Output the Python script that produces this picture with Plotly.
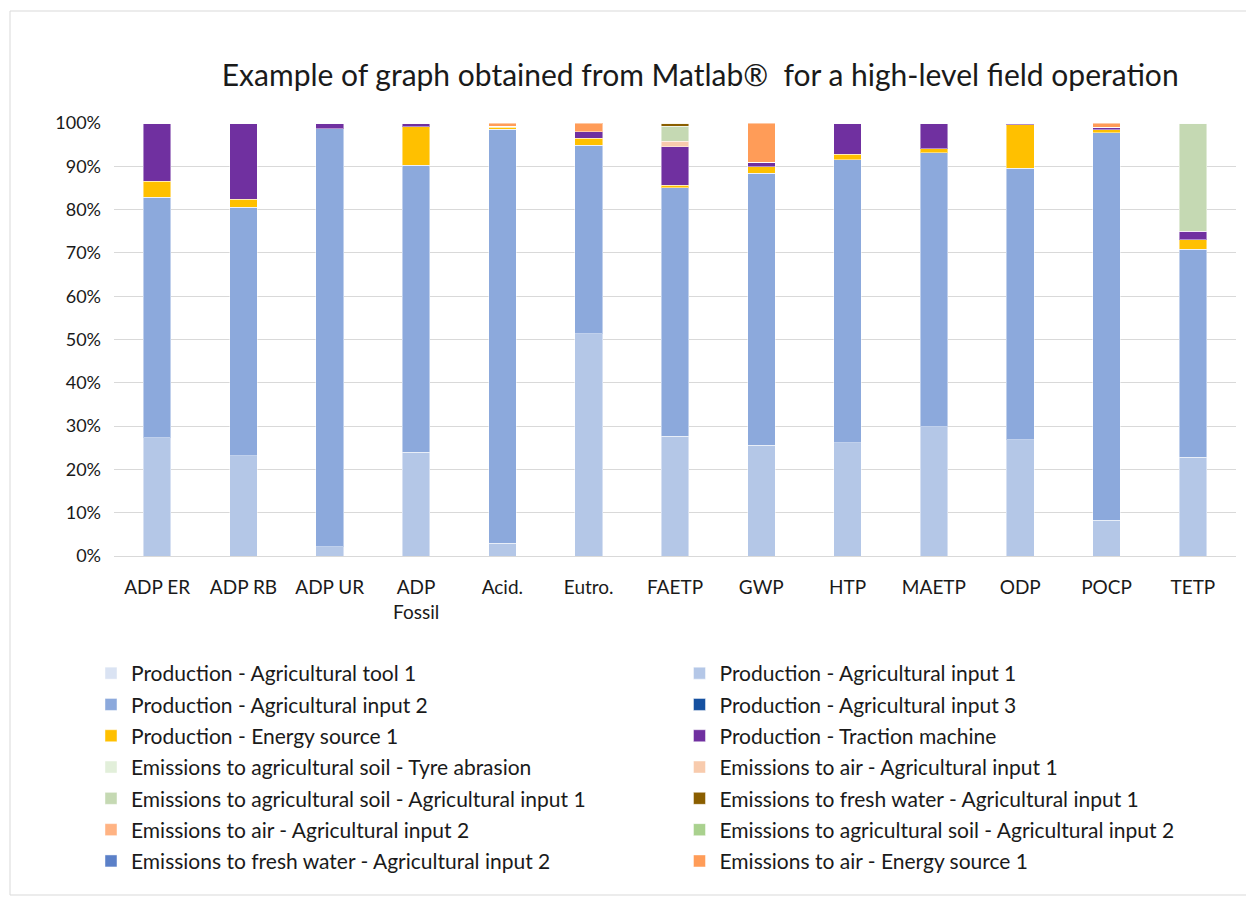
import plotly.graph_objects as go

categories = ["ADP ER", "ADP RB", "ADP UR", "ADP<br>Fossil", "Acid.", "Eutro.", "FAETP",
              "GWP", "HTP", "MAETP", "ODP", "POCP", "TETP"]

series_names = [
    "Production - Agricultural tool 1",
    "Production - Agricultural input 1",
    "Production - Agricultural input 2",
    "Production - Agricultural input 3",
    "Production - Energy source 1",
    "Production - Traction machine",
    "Emissions to agricultural soil - Tyre abrasion",
    "Emissions to air - Agricultural input 1",
    "Emissions to agricultural soil - Agricultural input 1",
    "Emissions to fresh water - Agricultural input 1",
    "Emissions to air - Agricultural input 2",
    "Emissions to agricultural soil - Agricultural input 2",
    "Emissions to fresh water - Agricultural input 2",
    "Emissions to air - Energy source 1",
]

prod_tool1 = [0, 0, 0, 0, 0, 0, 0, 0, 0, 0, 0, 0, 0]
prod_input1 = [27.3, 23.1, 2.1, 24.0, 3.0, 51.3, 27.7, 25.6, 26.1, 29.8, 26.8, 8.3, 22.8]
prod_input2 = [55.6, 57.5, 96.6, 66.3, 95.6, 43.6, 57.4, 62.8, 65.4, 63.3, 62.8, 89.5, 48.1]
prod_input3 = [0, 0, 0, 0, 0, 0, 0, 0, 0, 0, 0, 0, 0]
prod_energy1 = [3.6, 1.8, 0, 8.8, 0.4, 1.6, 0.5, 1.5, 1.3, 0.9, 10.0, 0.7, 2.1]
prod_traction = [13.5, 17.6, 1.3, 0.9, 0.3, 1.5, 8.9, 1.0, 7.0, 6.0, 0.4, 0.5, 2.0]
soil_tyre = [0, 0, 0, 0, 0, 0, 0, 0, 0, 0, 0, 0, 0]
air_input1 = [0, 0, 0, 0, 0, 0, 1.3, 0, 0.2, 0, 0, 0, 0]
soil_input1 = [0, 0, 0, 0, 0, 0, 3.5, 0, 0, 0, 0, 0, 25.0]
water_input1 = [0, 0, 0, 0, 0, 0, 0.7, 0, 0, 0, 0, 0, 0]
air_input2 = [0, 0, 0, 0, 0, 0, 0, 0, 0, 0, 0, 0, 0]
soil_input2 = [0, 0, 0, 0, 0, 0, 0, 0, 0, 0, 0, 0, 0]
water_input2 = [0, 0, 0, 0, 0, 0, 0, 0, 0, 0, 0, 0, 0]
air_energy1 = [0, 0, 0, 0, 0.7, 2.0, 0, 9.1, 0, 0, 0, 1.0, 0]

series_values = [prod_tool1, prod_input1, prod_input2, prod_input3, prod_energy1, prod_traction,
                 soil_tyre, air_input1, soil_input1, water_input1, air_input2, soil_input2,
                 water_input2, air_energy1]

colors = ["#DAE3F3", "#B4C7E7", "#8CA9DC", "#1550A0", "#FFC000", "#7030A0",
          "#E2EFDA", "#F8CBAD", "#C5D9B3", "#8A5E00", "#FFB383", "#A9D18E",
          "#5B80C8", "#FF9C58"]

yticks = [0, 10, 20, 30, 40, 50, 60, 70, 80, 90, 100]
ytick_labels = [f"{v}%" for v in yticks]

FONT = "Lato, 'Open Sans', sans-serif"
TXT = "#1a1a1a"

fig = go.Figure()
for i, (name, vals, col) in enumerate(zip(series_names, series_values, colors)):
    fig.add_trace(go.Bar(
        x=categories, y=vals, name=name,
        legend="legend" if i % 2 == 0 else "legend2",
        legendgroup=f"g{i}",
        marker=dict(color=col, line=dict(color="rgba(255,255,255,0.45)", width=1)),
    ))

legend_common = dict(orientation="v", traceorder="grouped", tracegroupgap=1,
                     yanchor="top", xanchor="left",
                     font=dict(family=FONT, size=21, color=TXT),
                     bgcolor="rgba(0,0,0,0)")

fig.update_layout(
    width=1254, height=898,
    barmode="stack", bargap=0.68,
    paper_bgcolor="white", plot_bgcolor="white",
    margin=dict(l=106, r=26, t=115, b=350, autoexpand=False),
    font=dict(family=FONT, size=18, color=TXT),
    title=dict(text="Example of graph obtained from Matlab®  for a high-level field operation",
               x=0.552, xref="container", xanchor="center",
               y=1 - 67 / 898, yref="container", yanchor="middle",
               font=dict(family=FONT, size=30, color=TXT)),
    xaxis=dict(showgrid=False, showline=False, ticks="", ticklabelstandoff=18,
               tickfont=dict(size=19)),
    yaxis=dict(range=[0, 100], tickvals=yticks, ticktext=ytick_labels,
               showgrid=True, gridcolor="#D9D9D9", gridwidth=1, zeroline=True,
               zerolinecolor="#D9D9D9", zerolinewidth=1,
               ticks="", ticklabelstandoff=12, tickfont=dict(size=18)),
    legend=dict(x=-0.0205, y=-0.224, **legend_common),
    legend2=dict(x=0.504, y=-0.224, **legend_common),
    showlegend=True,
    shapes=[dict(type="rect", xref="paper", yref="paper",
                 x0=(10 - 114) / 1122, x1=(1254 - 114) / 1122,
                 y0=(556 - 895) / 433, y1=(556 - 11) / 433,
                 line=dict(color="#D9D9D9", width=1), fillcolor="rgba(0,0,0,0)",
                 layer="below")],
)

fig.write_html("out.html")
